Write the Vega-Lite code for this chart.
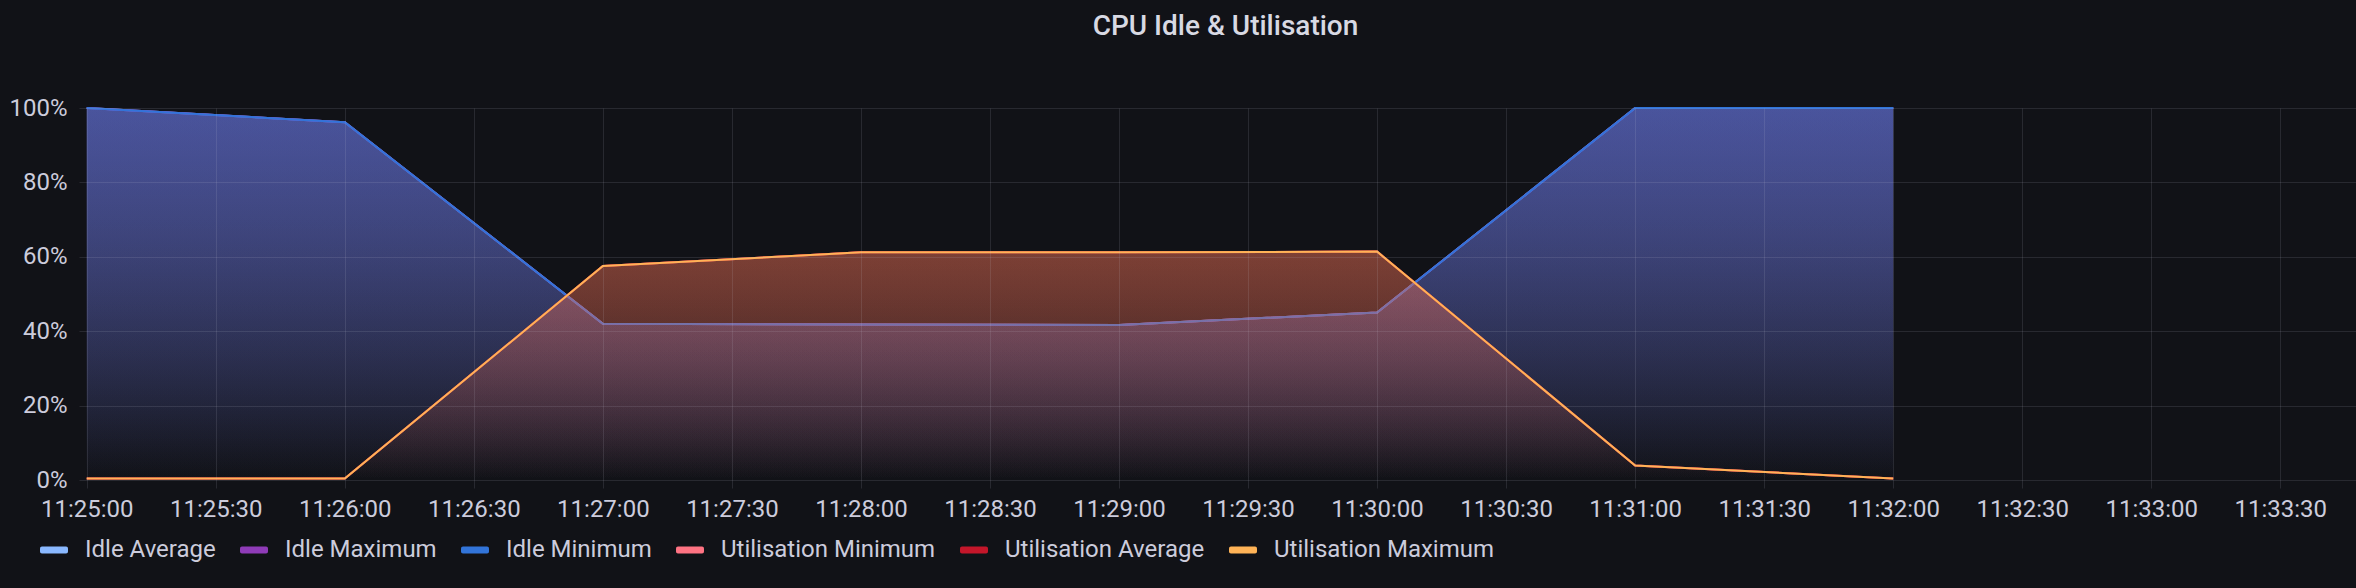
{
  "$schema": "https://vega.github.io/schema/vega-lite/v6.json",
  "width": 2277,
  "height": 372,
  "autosize": {"type": "none"},
  "padding": {"left": 79, "top": 108, "right": 0, "bottom": 108},
  "background": "#111217",
  "title": {"text": "CPU Idle & Utilisation", "font": "Roboto", "fontSize": 28, "fontWeight": 500, "color": "#D8D9E3", "anchor": "middle", "frame": "group", "dx": 8, "offset": 33, "baseline": "alphabetic"},
  "config": {"view": {"stroke": null}, "font": "Roboto"},
  "data": {"values": [
    {"time": "2024-01-01T11:25:00Z", "series": "Idle Average", "value": 100},
    {"time": "2024-01-01T11:26:00Z", "series": "Idle Average", "value": 96.2},
    {"time": "2024-01-01T11:27:00Z", "series": "Idle Average", "value": 42.0},
    {"time": "2024-01-01T11:28:00Z", "series": "Idle Average", "value": 41.8},
    {"time": "2024-01-01T11:29:00Z", "series": "Idle Average", "value": 41.7},
    {"time": "2024-01-01T11:30:00Z", "series": "Idle Average", "value": 45.0},
    {"time": "2024-01-01T11:31:00Z", "series": "Idle Average", "value": 100},
    {"time": "2024-01-01T11:32:00Z", "series": "Idle Average", "value": 100},
    {"time": "2024-01-01T11:25:00Z", "series": "Idle Maximum", "value": 100},
    {"time": "2024-01-01T11:26:00Z", "series": "Idle Maximum", "value": 96.2},
    {"time": "2024-01-01T11:27:00Z", "series": "Idle Maximum", "value": 42.0},
    {"time": "2024-01-01T11:28:00Z", "series": "Idle Maximum", "value": 41.8},
    {"time": "2024-01-01T11:29:00Z", "series": "Idle Maximum", "value": 41.7},
    {"time": "2024-01-01T11:30:00Z", "series": "Idle Maximum", "value": 45.0},
    {"time": "2024-01-01T11:31:00Z", "series": "Idle Maximum", "value": 100},
    {"time": "2024-01-01T11:32:00Z", "series": "Idle Maximum", "value": 100},
    {"time": "2024-01-01T11:25:00Z", "series": "Idle Minimum", "value": 100},
    {"time": "2024-01-01T11:26:00Z", "series": "Idle Minimum", "value": 96.2},
    {"time": "2024-01-01T11:27:00Z", "series": "Idle Minimum", "value": 42.0},
    {"time": "2024-01-01T11:28:00Z", "series": "Idle Minimum", "value": 41.8},
    {"time": "2024-01-01T11:29:00Z", "series": "Idle Minimum", "value": 41.7},
    {"time": "2024-01-01T11:30:00Z", "series": "Idle Minimum", "value": 45.0},
    {"time": "2024-01-01T11:31:00Z", "series": "Idle Minimum", "value": 100},
    {"time": "2024-01-01T11:32:00Z", "series": "Idle Minimum", "value": 100},
    {"time": "2024-01-01T11:25:00Z", "series": "Utilisation Minimum", "value": 0.4},
    {"time": "2024-01-01T11:26:00Z", "series": "Utilisation Minimum", "value": 0.4},
    {"time": "2024-01-01T11:27:00Z", "series": "Utilisation Minimum", "value": 57.5},
    {"time": "2024-01-01T11:28:00Z", "series": "Utilisation Minimum", "value": 61.2},
    {"time": "2024-01-01T11:29:00Z", "series": "Utilisation Minimum", "value": 61.2},
    {"time": "2024-01-01T11:30:00Z", "series": "Utilisation Minimum", "value": 61.4},
    {"time": "2024-01-01T11:31:00Z", "series": "Utilisation Minimum", "value": 3.9},
    {"time": "2024-01-01T11:32:00Z", "series": "Utilisation Minimum", "value": 0.4},
    {"time": "2024-01-01T11:25:00Z", "series": "Utilisation Average", "value": 0.4},
    {"time": "2024-01-01T11:26:00Z", "series": "Utilisation Average", "value": 0.4},
    {"time": "2024-01-01T11:27:00Z", "series": "Utilisation Average", "value": 57.5},
    {"time": "2024-01-01T11:28:00Z", "series": "Utilisation Average", "value": 61.2},
    {"time": "2024-01-01T11:29:00Z", "series": "Utilisation Average", "value": 61.2},
    {"time": "2024-01-01T11:30:00Z", "series": "Utilisation Average", "value": 61.4},
    {"time": "2024-01-01T11:31:00Z", "series": "Utilisation Average", "value": 3.9},
    {"time": "2024-01-01T11:32:00Z", "series": "Utilisation Average", "value": 0.4},
    {"time": "2024-01-01T11:25:00Z", "series": "Utilisation Maximum", "value": 0.4},
    {"time": "2024-01-01T11:26:00Z", "series": "Utilisation Maximum", "value": 0.4},
    {"time": "2024-01-01T11:27:00Z", "series": "Utilisation Maximum", "value": 57.5},
    {"time": "2024-01-01T11:28:00Z", "series": "Utilisation Maximum", "value": 61.2},
    {"time": "2024-01-01T11:29:00Z", "series": "Utilisation Maximum", "value": 61.2},
    {"time": "2024-01-01T11:30:00Z", "series": "Utilisation Maximum", "value": 61.4},
    {"time": "2024-01-01T11:31:00Z", "series": "Utilisation Maximum", "value": 3.9},
    {"time": "2024-01-01T11:32:00Z", "series": "Utilisation Maximum", "value": 0.4}
  ]},
  "encoding": {
    "x": {
      "field": "time", "type": "temporal",
      "scale": {"type": "utc", "domain": [1704108298200, 1704108827600]},
      "axis": {"title": null, "format": "%H:%M:%S", "tickCount": 18, "labelFont": "Roboto", "labelFontSize": 24, "labelColor": "#CCCCDC", "tickColor": "rgba(204,204,220,0.13)", "tickSize": 8, "gridColor": "rgba(204,204,220,0.13)", "gridWidth": 1, "domain": false, "labelPadding": 9, "labelFlush": false, "labelOverlap": false, "zindex": 1}
    },
    "y": {
      "field": "value", "type": "quantitative",
      "scale": {"domain": [0, 100], "nice": false},
      "axis": {"title": null, "values": [0, 20, 40, 60, 80, 100], "labelExpr": "datum.value + '%'", "ticks": false, "tickSize": 0, "domain": false, "labelPadding": 12, "labelFont": "Roboto", "labelFontSize": 24, "labelColor": "#CCCCDC", "gridColor": "rgba(204,204,220,0.13)", "gridWidth": 1, "zindex": 1}
    }
  },
  "layer": [
    {"transform": [{"filter": "datum.series === 'Idle Average'"}], "mark": {"type": "area", "opacity": 1, "fill": {"gradient": "linear", "x1": 0, "y1": 0, "x2": 0, "y2": 1, "stops": [{"offset": 0, "color": "rgba(138,184,255,0.33)"}, {"offset": 1, "color": "rgba(138,184,255,0)"}]}}, "encoding": {}},
    {"transform": [{"filter": "datum.series === 'Idle Average'"}], "mark": {"type": "line", "strokeWidth": 2},
     "encoding": {"color": {"field": "series", "type": "nominal", "scale": {"domain": ["Idle Average", "Idle Maximum", "Idle Minimum", "Utilisation Minimum", "Utilisation Average", "Utilisation Maximum"], "range": ["#8AB8FF", "#8F3BB8", "#3274D9", "#FF7383", "#C4162A", "#FFB357"]}, "legend": {"title": null, "orient": "none", "legendX": -39, "legendY": 428, "direction": "horizontal", "symbolType": "M-0.86,-0.25H0.86A0.14,0.14,0,0,1,1,-0.11V0.11A0.14,0.14,0,0,1,0.86,0.25H-0.86A0.14,0.14,0,0,1,-1,0.11V-0.11A0.14,0.14,0,0,1,-0.86,-0.25Z", "symbolSize": 784, "symbolStrokeWidth": 0, "labelFont": "Roboto", "labelFontSize": 24, "labelColor": "#CCCCDC", "labelOffset": 17, "labelLimit": 1000, "columnPadding": 24, "padding": 0, "labelBaseline": "middle", "encode": {"symbols": {"update": {"fill": {"scale": "color", "field": "value"}}}}}}}},
    {"transform": [{"filter": "datum.series === 'Idle Maximum'"}], "mark": {"type": "area", "opacity": 1, "fill": {"gradient": "linear", "x1": 0, "y1": 0, "x2": 0, "y2": 1, "stops": [{"offset": 0, "color": "rgba(143,59,184,0.33)"}, {"offset": 1, "color": "rgba(143,59,184,0)"}]}}, "encoding": {}},
    {"transform": [{"filter": "datum.series === 'Idle Maximum'"}], "mark": {"type": "line", "strokeWidth": 2},
     "encoding": {"color": {"field": "series", "type": "nominal", "scale": {"domain": ["Idle Average", "Idle Maximum", "Idle Minimum", "Utilisation Minimum", "Utilisation Average", "Utilisation Maximum"], "range": ["#8AB8FF", "#8F3BB8", "#3274D9", "#FF7383", "#C4162A", "#FFB357"]}, "legend": {"title": null, "orient": "none", "legendX": -39, "legendY": 428, "direction": "horizontal", "symbolType": "M-0.86,-0.25H0.86A0.14,0.14,0,0,1,1,-0.11V0.11A0.14,0.14,0,0,1,0.86,0.25H-0.86A0.14,0.14,0,0,1,-1,0.11V-0.11A0.14,0.14,0,0,1,-0.86,-0.25Z", "symbolSize": 784, "symbolStrokeWidth": 0, "labelFont": "Roboto", "labelFontSize": 24, "labelColor": "#CCCCDC", "labelOffset": 17, "labelLimit": 1000, "columnPadding": 24, "padding": 0, "labelBaseline": "middle", "encode": {"symbols": {"update": {"fill": {"scale": "color", "field": "value"}}}}}}}},
    {"transform": [{"filter": "datum.series === 'Idle Minimum'"}], "mark": {"type": "area", "opacity": 1, "fill": {"gradient": "linear", "x1": 0, "y1": 0, "x2": 0, "y2": 1, "stops": [{"offset": 0, "color": "rgba(50,116,217,0.33)"}, {"offset": 1, "color": "rgba(50,116,217,0)"}]}}, "encoding": {}},
    {"transform": [{"filter": "datum.series === 'Idle Minimum'"}], "mark": {"type": "line", "strokeWidth": 2},
     "encoding": {"color": {"field": "series", "type": "nominal", "scale": {"domain": ["Idle Average", "Idle Maximum", "Idle Minimum", "Utilisation Minimum", "Utilisation Average", "Utilisation Maximum"], "range": ["#8AB8FF", "#8F3BB8", "#3274D9", "#FF7383", "#C4162A", "#FFB357"]}, "legend": {"title": null, "orient": "none", "legendX": -39, "legendY": 428, "direction": "horizontal", "symbolType": "M-0.86,-0.25H0.86A0.14,0.14,0,0,1,1,-0.11V0.11A0.14,0.14,0,0,1,0.86,0.25H-0.86A0.14,0.14,0,0,1,-1,0.11V-0.11A0.14,0.14,0,0,1,-0.86,-0.25Z", "symbolSize": 784, "symbolStrokeWidth": 0, "labelFont": "Roboto", "labelFontSize": 24, "labelColor": "#CCCCDC", "labelOffset": 17, "labelLimit": 1000, "columnPadding": 24, "padding": 0, "labelBaseline": "middle", "encode": {"symbols": {"update": {"fill": {"scale": "color", "field": "value"}}}}}}}},
    {"transform": [{"filter": "datum.series === 'Utilisation Minimum'"}], "mark": {"type": "area", "opacity": 1, "fill": {"gradient": "linear", "x1": 0, "y1": 0, "x2": 0, "y2": 1, "stops": [{"offset": 0, "color": "rgba(255,115,131,0.203)"}, {"offset": 1, "color": "rgba(255,115,131,0)"}]}}, "encoding": {}},
    {"transform": [{"filter": "datum.series === 'Utilisation Minimum'"}], "mark": {"type": "line", "strokeWidth": 2},
     "encoding": {"color": {"field": "series", "type": "nominal", "scale": {"domain": ["Idle Average", "Idle Maximum", "Idle Minimum", "Utilisation Minimum", "Utilisation Average", "Utilisation Maximum"], "range": ["#8AB8FF", "#8F3BB8", "#3274D9", "#FF7383", "#C4162A", "#FFB357"]}, "legend": {"title": null, "orient": "none", "legendX": -39, "legendY": 428, "direction": "horizontal", "symbolType": "M-0.86,-0.25H0.86A0.14,0.14,0,0,1,1,-0.11V0.11A0.14,0.14,0,0,1,0.86,0.25H-0.86A0.14,0.14,0,0,1,-1,0.11V-0.11A0.14,0.14,0,0,1,-0.86,-0.25Z", "symbolSize": 784, "symbolStrokeWidth": 0, "labelFont": "Roboto", "labelFontSize": 24, "labelColor": "#CCCCDC", "labelOffset": 17, "labelLimit": 1000, "columnPadding": 24, "padding": 0, "labelBaseline": "middle", "encode": {"symbols": {"update": {"fill": {"scale": "color", "field": "value"}}}}}}}},
    {"transform": [{"filter": "datum.series === 'Utilisation Average'"}], "mark": {"type": "area", "opacity": 1, "fill": {"gradient": "linear", "x1": 0, "y1": 0, "x2": 0, "y2": 1, "stops": [{"offset": 0, "color": "rgba(196,22,42,0.203)"}, {"offset": 1, "color": "rgba(196,22,42,0)"}]}}, "encoding": {}},
    {"transform": [{"filter": "datum.series === 'Utilisation Average'"}], "mark": {"type": "line", "strokeWidth": 2},
     "encoding": {"color": {"field": "series", "type": "nominal", "scale": {"domain": ["Idle Average", "Idle Maximum", "Idle Minimum", "Utilisation Minimum", "Utilisation Average", "Utilisation Maximum"], "range": ["#8AB8FF", "#8F3BB8", "#3274D9", "#FF7383", "#C4162A", "#FFB357"]}, "legend": {"title": null, "orient": "none", "legendX": -39, "legendY": 428, "direction": "horizontal", "symbolType": "M-0.86,-0.25H0.86A0.14,0.14,0,0,1,1,-0.11V0.11A0.14,0.14,0,0,1,0.86,0.25H-0.86A0.14,0.14,0,0,1,-1,0.11V-0.11A0.14,0.14,0,0,1,-0.86,-0.25Z", "symbolSize": 784, "symbolStrokeWidth": 0, "labelFont": "Roboto", "labelFontSize": 24, "labelColor": "#CCCCDC", "labelOffset": 17, "labelLimit": 1000, "columnPadding": 24, "padding": 0, "labelBaseline": "middle", "encode": {"symbols": {"update": {"fill": {"scale": "color", "field": "value"}}}}}}}},
    {"transform": [{"filter": "datum.series === 'Utilisation Maximum'"}], "mark": {"type": "area", "opacity": 1, "fill": {"gradient": "linear", "x1": 0, "y1": 0, "x2": 0, "y2": 1, "stops": [{"offset": 0, "color": "rgba(255,179,87,0.203)"}, {"offset": 1, "color": "rgba(255,179,87,0)"}]}}, "encoding": {}},
    {"transform": [{"filter": "datum.series === 'Utilisation Maximum'"}], "mark": {"type": "line", "strokeWidth": 2},
     "encoding": {"color": {"field": "series", "type": "nominal", "scale": {"domain": ["Idle Average", "Idle Maximum", "Idle Minimum", "Utilisation Minimum", "Utilisation Average", "Utilisation Maximum"], "range": ["#8AB8FF", "#8F3BB8", "#3274D9", "#FF7383", "#C4162A", "#FFB357"]}, "legend": {"title": null, "orient": "none", "legendX": -39, "legendY": 428, "direction": "horizontal", "symbolType": "M-0.86,-0.25H0.86A0.14,0.14,0,0,1,1,-0.11V0.11A0.14,0.14,0,0,1,0.86,0.25H-0.86A0.14,0.14,0,0,1,-1,0.11V-0.11A0.14,0.14,0,0,1,-0.86,-0.25Z", "symbolSize": 784, "symbolStrokeWidth": 0, "labelFont": "Roboto", "labelFontSize": 24, "labelColor": "#CCCCDC", "labelOffset": 17, "labelLimit": 1000, "columnPadding": 24, "padding": 0, "labelBaseline": "middle", "encode": {"symbols": {"update": {"fill": {"scale": "color", "field": "value"}}}}}}}}
  ]
}
